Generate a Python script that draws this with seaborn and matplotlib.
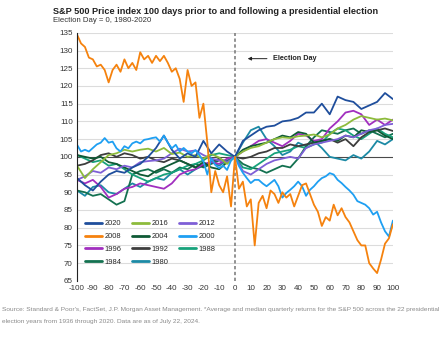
import numpy as np
import pandas as pd
import matplotlib
matplotlib.use("Agg")
import matplotlib.pyplot as plt
import seaborn as sns
from matplotlib.lines import Line2D

# ---------------- data ----------------
days5 = list(range(-100, 101, 5))
days25 = list(np.arange(-100, 100.1, 2.5))

y2020 = [94, 92, 90.5, 93, 95, 96, 95.5, 97, 98, 100, 102.5, 106, 102, 99.5, 101, 100, 104.5, 101, 103.5, 101.5,
         100, 104.5, 106, 107.5, 108.5, 108.8, 110, 110.3, 111, 112.5, 112.5, 115, 112, 117, 116, 115.5, 113.5, 114.5, 115.5, 118, 116.3]
y2016 = [97.5, 94, 96.5, 98.5, 100.5, 101, 102, 101.5, 102, 102.3, 101.5, 102.5, 100.8, 101.2, 100, 100.5, 99.5, 100.8, 99.8, 98,
         100, 101.5, 102.5, 103, 104, 105, 105.5, 105.3, 105.8, 106, 106.3, 105.5, 106.3, 108, 109, 110.5, 111.5, 111, 110.5, 110.8, 110.3]
y2012 = [93.5, 94.5, 96, 95.5, 97, 96.5, 97.5, 97, 98.5, 98.8, 99, 99.5, 101, 102.3, 101.5, 101.8, 100.5, 99.5, 99, 98.5,
         100, 96, 95, 96.5, 98, 99, 99.5, 100, 99.5, 102.5, 103.5, 104, 104.5, 105, 106, 105.5, 106.5, 107.5, 108, 109, 109.3]
y2004 = [100.5, 100, 99.5, 100, 98.5, 98, 97, 96, 95, 94.5, 96, 97, 98, 99, 98, 97, 98.5, 97, 96.5, 98.5,
         100, 102, 103, 103.5, 104, 105, 106, 105.5, 107, 106.5, 104, 104.5, 105, 104.5, 106, 105.5, 107.5, 107, 107.5, 106, 105]
y1996 = [93.5, 92.5, 93.5, 91.5, 88.5, 89.5, 91, 91.5, 92.5, 92, 91.5, 91, 92.5, 95, 96, 96.5, 98, 98.5, 98, 99.5,
         100, 101.5, 103, 104.5, 105, 104, 103, 104.5, 106.5, 106, 104.5, 105, 108, 110, 112.5, 113, 112, 109, 110.5, 109, 110.5]
y1992 = [97.5, 98, 99, 100.5, 101, 100, 101, 100.5, 99.5, 100, 99, 98.5, 99.5, 99, 98, 97, 97.5, 98.5, 99.5, 98.5,
         100, 99.5, 100, 101, 101.5, 102.5, 102.5, 103.5, 103, 103.5, 104, 104.5, 105, 104, 105, 103, 105.5, 107, 107.5, 108, 107.3]
y1988 = [100.5, 99.5, 98.5, 99, 97.5, 98, 96.5, 95, 94, 93, 94, 95, 95.5, 96.5, 97.5, 98, 99, 100.5, 101, 100.5,
         100, 97, 96.5, 98, 99.5, 101, 101.5, 102, 103, 102.5, 103.5, 104, 106.5, 108, 107.5, 106, 105, 106.5, 108, 106.5, 105.5]
y1984 = [90.5, 90, 89, 89.5, 88, 86.5, 87.5, 95, 96, 96.5, 95.5, 96.5, 95.5, 97, 96.5, 98, 97, 98, 99, 98.5,
         100, 98, 97, 96.5, 95.5, 96.5, 97.5, 97, 99.5, 103, 105.5, 107.5, 107, 106.5, 107.5, 108, 106.5, 107.5, 106.5, 105.5, 106.5]
y1980 = [90.5, 89, 91.5, 92, 90, 89.5, 91, 92.5, 91.5, 93, 94, 93.5, 95.5, 96.5, 95, 96.5, 97.5, 98.5, 97.5, 99,
         100, 104, 107.5, 108.5, 105, 103, 100.5, 101.5, 104, 103, 104.5, 102.5, 100, 99.5, 99, 100.5, 99.5, 101.5, 104.5, 103.5, 105]

y2008 = [134.5, 132, 131, 128, 127.5, 125.5, 126, 124.5, 121, 124.5, 126, 124, 127.5, 125, 126.5, 124.5,
         129.5, 127.5, 128.5, 126.5, 128.5, 127, 128.5, 126.5, 124, 125, 122, 115.5, 124.5, 120, 121, 111,
         115, 104, 90, 96, 92, 90, 94.5, 86, 100,
         91, 93, 86, 88, 75, 87, 89, 85.5, 90.5, 89.5, 87, 90, 88.5, 89.5, 86, 89, 92, 92.5, 89.5, 86.5,
         84.5, 80.5, 83, 82, 86.5, 83.5, 85.5, 83, 81.5, 79, 76.5, 75, 75, 70, 68.5, 67.2, 71, 75.5, 77, 81]
y2000 = [103.4, 101.5, 102, 101.5, 102.5, 103.5, 104, 105.3, 104, 104.3, 102.4, 101.5, 103, 102.4, 103.8, 104.3,
         103.8, 104.8, 105, 105.3, 105.5, 104.3, 106, 104, 102.4, 103.4, 101.5, 102.5, 101.5, 101, 101.9, 100.5,
         98.7, 95, 99.6, 97.7, 96.8, 97.5, 96.3, 99, 100,
         97.4, 95.5, 94, 92.6, 93.5, 93.5, 92.5, 91.7, 92.6, 93.5, 91.7, 88.5, 89.8, 90.7, 91.7, 93, 91.7, 89, 90.7,
         91.7, 93, 94, 94.5, 95.4, 95, 93.5, 92.6, 91.5, 90.5, 89.3, 87.5, 87, 86.5, 85.5, 83.7, 84.5, 81.5, 79, 77.5, 82]

series5 = {"2020": y2020, "2016": y2016, "2012": y2012, "2004": y2004, "1996": y1996,
           "1992": y1992, "1988": y1988, "1984": y1984, "1980": y1980}
series25 = {"2008": y2008, "2000": y2000}

# legend reads row by row: 2020 2016 2012 / 2008 2004 2000 / 1996 1992 1988 / 1984 1980
legend_rows = [["2020", "2016", "2012"], ["2008", "2004", "2000"],
               ["1996", "1992", "1988"], ["1984", "1980"]]
draw_order = ["1980", "1984", "1988", "1992", "1996", "2004", "2012", "2016", "2020", "2000", "2008"]
colors = {"2020": "#1f4e9c", "2016": "#8dbb3c", "2012": "#7e5fd6", "2008": "#f5820e",
          "2004": "#0f5a35", "2000": "#1e9ff2", "1996": "#a12fbf", "1992": "#3d3d3d",
          "1988": "#17a27b", "1984": "#137150", "1980": "#1c8aa5"}

title = "S&P 500 Price index 100 days prior to and following a presidential election"
subtitle = "Election Day = 0, 1980-2020"
footer1 = ("Source: Standard & Poor's, FactSet, J.P. Morgan Asset Management. *Average and median quarterly returns "
           "for the S&P 500 across the 22 presidential")
footer2 = "election years from 1936 through 2020. Data are as of July 22, 2024."

rows = []
for k, v in series5.items():
    for d, val in zip(days5, v):
        rows.append((k, d, val))
for k, v in series25.items():
    for d, val in zip(days25, v):
        rows.append((k, d, val))
df = pd.DataFrame(rows, columns=["year", "day", "value"])

# ---------------- plot ----------------
sns.set_theme(style="white")
plt.rcParams["font.family"] = ["Liberation Sans", "DejaVu Sans"]
plt.rcParams["axes.unicode_minus"] = False

fig = plt.figure(figsize=(4.48, 3.38), dpi=100)
ax = fig.add_axes([0.172, 0.169, 0.705, 0.734])

for y in range(65, 136, 5):
    if y != 100:
        ax.axhline(y, color="#dcdcdc", lw=0.8, zorder=0)
ax.axhline(100, color="#4a4a4a", lw=0.8, zorder=1)
ax.axvline(0, color="#808080", lw=1.2, ls=(0, (2, 1.5)), zorder=1)

sns.lineplot(data=df, x="day", y="value", hue="year", hue_order=draw_order,
             palette=colors, estimator=None, sort=True, lw=1.3, legend=False, ax=ax)

ax.set_xlim(-100, 100)
ax.set_ylim(65, 135)
ax.set_xticks(range(-100, 101, 10))
ax.set_yticks(range(65, 136, 5))
ax.tick_params(axis="both", length=0, labelsize=5.8, colors="#333333", pad=3)
ax.set_xlabel("")
ax.set_ylabel("")
for s in ["top", "right", "bottom"]:
    ax.spines[s].set_visible(False)
ax.spines["left"].set_color("#222222")
ax.spines["left"].set_linewidth(0.8)

# matplotlib fills legend columns first, so reorder to column-major
ncol = 3
col_major = [r[c] for c in range(ncol) for r in legend_rows if c < len(r)]
handles = [Line2D([0], [0], color=colors[k], lw=2.0) for k in col_major]
ax.legend(handles, col_major, ncol=ncol, loc="upper left", bbox_to_anchor=(0.025, 0.245),
          frameon=False, fontsize=5.4, handlelength=2.3, handletextpad=0.3,
          columnspacing=1.4, labelspacing=0.75, borderpad=0, borderaxespad=0)

ax.annotate("", xy=(6.3, 127.7), xytext=(22, 127.7),
            arrowprops=dict(arrowstyle="-|>", color="#222222", lw=0.7, mutation_scale=5))
ax.text(24, 127.7, "Election Day", fontsize=5.2, fontweight="bold", color="#222222",
        ha="left", va="center")

fig.text(53 / 448, 1 - 11 / 338, title, fontsize=6.6, fontweight="bold", color="#222222",
         ha="left", va="center")
fig.text(53 / 448, 1 - 21 / 338, subtitle, fontsize=5.6, color="#333333", ha="left", va="center")
fig.text(2 / 448, 1 - 309 / 338, footer1, fontsize=4.65, color="#8a8a8a", ha="left", va="center")
fig.text(2 / 448, 1 - 321 / 338, footer2, fontsize=4.65, color="#8a8a8a", ha="left", va="center")

fig.savefig("out.png", dpi=100, facecolor="white")
